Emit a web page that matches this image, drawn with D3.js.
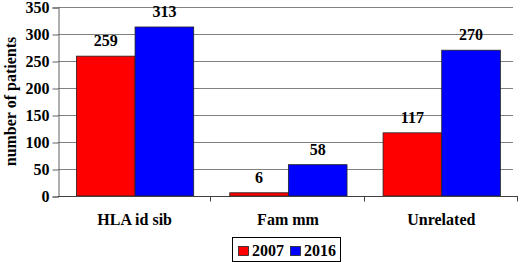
<!DOCTYPE html>
<html>
<head>
<meta charset="utf-8">
<script src="https://cdn.jsdelivr.net/npm/d3@7"></script>
<style>
  body { margin: 0; background: #fff; }
</style>
</head>
<body>
<div id="chart"></div>
<script>
// data
const categories = ["HLA id sib", "Fam mm", "Unrelated"];
const years = ["2007", "2016"];
const values2007 = [259, 6, 117];
const values2016 = [313, 58, 270];
const yTicks = [0, 50, 100, 150, 200, 250, 300, 350];
const colors = ["#ff0000", "#0000ff"];

const TEXT_STYLE = "font-family:'Liberation Serif';font-weight:bold;font-size:16px";

let width = 520, height = 262;
let margin = {left: 58, right: 2, top: 7, bottom: 66};

let svg = d3.select("#chart").append("svg")
    .attr("width", width)
    .attr("height", height)
    .attr("font-family", "Liberation Serif")
    .attr("font-weight", "bold");

let x = d3.scaleBand().domain(categories)
    .range([margin.left, width - margin.right]);
let xInner = d3.scaleBand().domain(years)
    .range([x.bandwidth() * 0.12, x.bandwidth() * 0.885]);
let y = d3.scaleLinear().domain([0, 350])
    .range([height - margin.bottom, margin.top]);

// gridlines
svg.append("g").selectAll("line")
    .data(yTicks.slice(1))
    .enter().append("line")
    .attr("x1", margin.left).attr("x2", width - 7)
    .attr("y1", d => Math.round(y(d)) + 0.5).attr("y2", d => Math.round(y(d)) + 0.5)
    .attr("stroke", "#808080").attr("stroke-width", 1);

// y axis
let yAxis = svg.append("g")
    .attr("transform", `translate(${margin.left + 0.5},0.5)`)
    .call(d3.axisLeft(y).tickValues(yTicks).tickSize(6).tickPadding(3));
yAxis.attr("font-family", "Liberation Serif").attr("font-size", 16);
yAxis.select(".domain").attr("stroke", "#606060");
yAxis.selectAll(".tick line").attr("stroke", "#606060");
yAxis.selectAll("text").attr("style", TEXT_STYLE).attr("fill", "#000");

// bars
let series = [values2007, values2016];
let groups = svg.append("g").selectAll("g")
    .data(categories)
    .enter().append("g")
    .attr("transform", d => `translate(${x(d)},0)`);

groups.selectAll("rect")
    .data((d, i) => years.map((yr, j) => ({yr: yr, v: series[j][i], c: colors[j]})))
    .enter().append("rect")
    .attr("x", d => xInner(d.yr))
    .attr("width", xInner.bandwidth())
    .attr("y", d => y(d.v))
    .attr("height", d => y(0) - y(d.v))
    .attr("fill", d => d.c)
    .attr("stroke", "#222").attr("stroke-width", 0.8);

groups.selectAll("text.val")
    .data((d, i) => years.map((yr, j) => ({yr: yr, v: series[j][i]})))
    .enter().append("text")
    .attr("class", "val")
    .attr("x", d => xInner(d.yr) + xInner.bandwidth() / 2)
    .attr("y", d => y(d.v) - 10)
    .attr("text-anchor", "middle")
    .attr("style", TEXT_STYLE)
    .text(d => d.v);

// x axis
let xAxis = svg.append("g")
    .attr("transform", `translate(0,${Math.round(y(0)) + 0.5})`);
xAxis.append("line")
    .attr("x1", margin.left).attr("x2", width - margin.right)
    .attr("stroke", "#404040");
xAxis.selectAll("line.tk")
    .data(categories)
    .enter().append("line")
    .attr("class", "tk")
    .attr("x1", d => Math.round(x(d) + x.bandwidth()) - 0.5)
    .attr("x2", d => Math.round(x(d) + x.bandwidth()) - 0.5)
    .attr("y1", 0).attr("y2", 5)
    .attr("stroke", "#404040");
svg.append("g").selectAll("text")
    .data(categories)
    .enter().append("text")
    .attr("x", d => x(d) + x.bandwidth() / 2)
    .attr("y", 225)
    .attr("text-anchor", "middle")
    .attr("style", TEXT_STYLE)
    .text(d => d);

// y title
svg.append("text")
    .attr("transform", `translate(16,${(margin.top + height - margin.bottom) / 2}) rotate(-90)`)
    .attr("text-anchor", "middle")
    .attr("style", TEXT_STYLE)
    .text("number of patients");

// legend
let legend = svg.append("g").attr("transform", "translate(232,237)");
legend.append("rect")
    .attr("x", 0.5).attr("y", 0.5).attr("width", 108).attr("height", 24)
    .attr("fill", "#fff").attr("stroke", "#000");
let items = legend.selectAll("g.item")
    .data(years)
    .enter().append("g")
    .attr("transform", (d, i) => `translate(${6 + i * 52},0)`);
items.append("rect")
    .attr("x", 0.5).attr("y", 9.5).attr("width", 10).attr("height", 9)
    .attr("fill", (d, i) => colors[i]).attr("stroke", "#222").attr("stroke-width", 0.8);
items.append("text")
    .attr("x", 14).attr("y", 19)
    .attr("style", TEXT_STYLE)
    .text(d => d);
</script>
</body>
</html>
